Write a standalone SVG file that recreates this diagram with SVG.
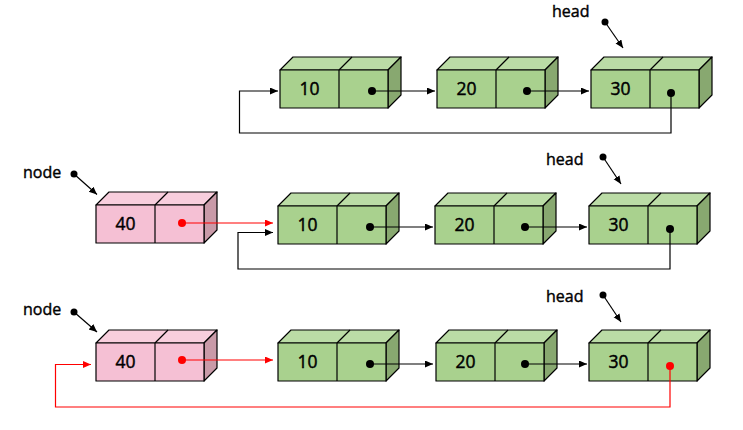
<svg xmlns="http://www.w3.org/2000/svg" xmlns:xlink="http://www.w3.org/1999/xlink" width="743" height="430" viewBox="0 0 743 430">
  <style>
    .lbl { font-family: "Open Sans", "Liberation Sans", sans-serif; font-size: 16px; fill: #000; stroke: #000; stroke-width: 0.4; }
    .val { font-family: "Open Sans", "Liberation Sans", sans-serif; font-size: 17.5px; fill: #000; stroke: #000; stroke-width: 0.45; text-anchor: middle; }
    .edge { fill: none; stroke: #000; stroke-width: 1.2; }
    .edge-red { fill: none; stroke: #ff0000; stroke-width: 1.2; }
    .dot { fill: #000; }
    .dot-red { fill: #ff0000; }
    .ol { stroke: #000; stroke-width: 1.2; stroke-linejoin: round; }
  </style>
  <defs>
    <marker id="arr" markerUnits="userSpaceOnUse" markerWidth="9" markerHeight="8" refX="8" refY="3.5" orient="auto">
      <path d="M0,0 L8,3.5 L0,7 z" fill="#000"/>
    </marker>
    <marker id="arr-red" markerUnits="userSpaceOnUse" markerWidth="9" markerHeight="8" refX="8" refY="3.5" orient="auto">
      <path d="M0,0 L8,3.5 L0,7 z" fill="#ff0000"/>
    </marker>
    <!-- two-cell 3D box: front 108x38, depth 13 -->
    <g id="box-green">
      <path class="ol" d="M0,0 L13,-13 L121,-13 L108,0 z" fill="#bbdca6"/>
      <path class="ol" d="M59,0 L72,-13" fill="none"/>
      <path class="ol" d="M108,0 L121,-13 L121,25 L108,38 z" fill="#88a870"/>
      <rect class="ol" x="0" y="0" width="108" height="38" fill="#a9d18e"/>
      <line class="ol" x1="59" y1="0" x2="59" y2="38"/>
    </g>
    <g id="box-pink">
      <path class="ol" d="M0,0 L13,-13 L121,-13 L108,0 z" fill="#f8cedd"/>
      <path class="ol" d="M59,0 L72,-13" fill="none"/>
      <path class="ol" d="M108,0 L121,-13 L121,25 L108,38 z" fill="#c99aa8"/>
      <rect class="ol" x="0" y="0" width="108" height="38" fill="#f5c0d4"/>
      <line class="ol" x1="59" y1="0" x2="59" y2="38"/>
    </g>
  </defs>

  <rect width="743" height="430" fill="#fff"/>

  <!-- row 1: circular list 10 -> 20 -> 30 -> 10 -->
  <g id="r1-n10" transform="translate(280,70)">
    <use xlink:href="#box-green"/>
    <text class="val" x="29.5" y="25">10</text>
  </g>
  <g id="r1-n20" transform="translate(437,70)">
    <use xlink:href="#box-green"/>
    <text class="val" x="29.5" y="25">20</text>
  </g>
  <g id="r1-n30" transform="translate(591,70)">
    <use xlink:href="#box-green"/>
    <text class="val" x="29.5" y="25">30</text>
  </g>
  <g id="r1-head">
    <text class="lbl" x="552" y="17">head</text>
  </g>

  <!-- row 2: new node 40 pointing at 10 -->
  <g id="r2-n40" transform="translate(96,205)">
    <use xlink:href="#box-pink"/>
    <text class="val" x="29.5" y="25">40</text>
  </g>
  <g id="r2-n10" transform="translate(278,206)">
    <use xlink:href="#box-green"/>
    <text class="val" x="29.5" y="25">10</text>
  </g>
  <g id="r2-n20" transform="translate(435,206)">
    <use xlink:href="#box-green"/>
    <text class="val" x="29.5" y="25">20</text>
  </g>
  <g id="r2-n30" transform="translate(589,206)">
    <use xlink:href="#box-green"/>
    <text class="val" x="29.5" y="25">30</text>
  </g>
  <g id="r2-node">
    <text class="lbl" x="23" y="178">node</text>
  </g>
  <g id="r2-head">
    <text class="lbl" x="546" y="165">head</text>
  </g>

  <!-- row 3: 30 now points at 40 -->
  <g id="r3-n40" transform="translate(96,343)">
    <use xlink:href="#box-pink"/>
    <text class="val" x="29.5" y="25">40</text>
  </g>
  <g id="r3-n10" transform="translate(278,343)">
    <use xlink:href="#box-green"/>
    <text class="val" x="29.5" y="25">10</text>
  </g>
  <g id="r3-n20" transform="translate(436,343)">
    <use xlink:href="#box-green"/>
    <text class="val" x="29.5" y="25">20</text>
  </g>
  <g id="r3-n30" transform="translate(589,343)">
    <use xlink:href="#box-green"/>
    <text class="val" x="29.5" y="25">30</text>
  </g>
  <g id="r3-node">
    <text class="lbl" x="23" y="315">node</text>
  </g>
  <g id="r3-head">
    <text class="lbl" x="546" y="302">head</text>
  </g>

  <g id="connectors">
    <!-- row 1 -->
    <line class="edge" x1="372" y1="91" x2="435" y2="91" marker-end="url(#arr)"/>
    <circle class="dot" cx="372" cy="91" r="4"/>
    <line class="edge" x1="527" y1="91" x2="589" y2="91" marker-end="url(#arr)"/>
    <circle class="dot" cx="527" cy="91" r="4"/>
    <path class="edge" d="M671,93 V133 H239.5 V91 H278" marker-end="url(#arr)"/>
    <circle class="dot" cx="671" cy="93" r="4"/>
    <line class="edge" x1="605" y1="22" x2="623" y2="48" marker-end="url(#arr)"/>
    <circle class="dot" cx="605" cy="22" r="3.5"/>

    <!-- row 2 -->
    <line class="edge-red" x1="182" y1="223" x2="273" y2="223" marker-end="url(#arr-red)"/>
    <circle class="dot-red" cx="182" cy="223" r="4"/>
    <line class="edge" x1="370" y1="227" x2="433" y2="227" marker-end="url(#arr)"/>
    <circle class="dot" cx="370" cy="227" r="4"/>
    <line class="edge" x1="525" y1="227" x2="587" y2="227" marker-end="url(#arr)"/>
    <circle class="dot" cx="525" cy="227" r="4"/>
    <path class="edge" d="M670,229 V269 H238 V232.5 H273" marker-end="url(#arr)"/>
    <circle class="dot" cx="670" cy="229" r="4"/>
    <line class="edge" x1="74" y1="174" x2="97" y2="194.5" marker-end="url(#arr)"/>
    <circle class="dot" cx="74" cy="174" r="3.5"/>
    <line class="edge" x1="603" y1="157" x2="621" y2="184" marker-end="url(#arr)"/>
    <circle class="dot" cx="603" cy="157" r="3.5"/>

    <!-- row 3 -->
    <line class="edge-red" x1="182" y1="360" x2="273" y2="360" marker-end="url(#arr-red)"/>
    <circle class="dot-red" cx="182" cy="360" r="4"/>
    <line class="edge" x1="370" y1="364" x2="433" y2="364" marker-end="url(#arr)"/>
    <circle class="dot" cx="370" cy="364" r="4"/>
    <line class="edge" x1="525" y1="364" x2="587" y2="364" marker-end="url(#arr)"/>
    <circle class="dot" cx="525" cy="364" r="4"/>
    <path class="edge-red" d="M670,366 V407 H55.5 V364.5 H91" marker-end="url(#arr-red)"/>
    <circle class="dot-red" cx="670" cy="366" r="4"/>
    <line class="edge" x1="74" y1="312" x2="97" y2="332" marker-end="url(#arr)"/>
    <circle class="dot" cx="74" cy="312" r="3.5"/>
    <line class="edge" x1="603" y1="295" x2="621" y2="322" marker-end="url(#arr)"/>
    <circle class="dot" cx="603" cy="295" r="3.5"/>
  </g>
</svg>
